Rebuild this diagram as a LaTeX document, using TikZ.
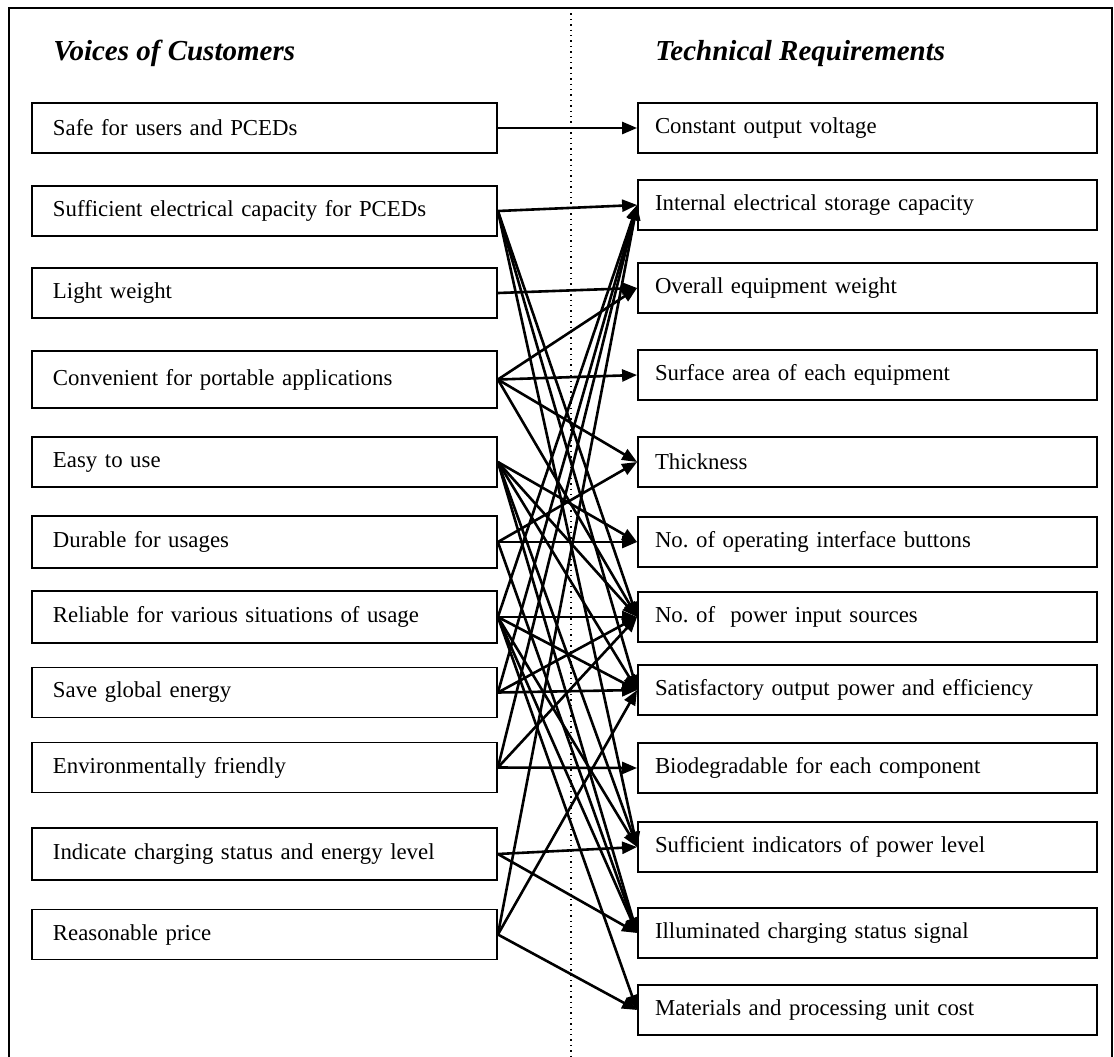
\documentclass[tikz,border=0pt]{standalone}
\usepackage{fontspec}
\setmainfont{Liberation Serif}
\usetikzlibrary{arrows.meta}
\begin{document}
\begin{tikzpicture}[x=0.5pt,y=-0.5pt,
  boxtext/.style={font=\fontsize{11.4}{13}\selectfont},
  vbox/.style={boxtext, draw, line width=0.9pt, text width=211.5pt, inner xsep=10.5pt, inner ysep=0pt, align=left, minimum height=25pt},
  tbox/.style={boxtext, draw, line width=0.9pt, text width=212.5pt, inner xsep=8.5pt, inner ysep=0pt, align=left, minimum height=25pt},
  heading/.style={anchor=base west, inner sep=0pt, font=\fontsize{14.5}{16}\selectfont\bfseries\itshape},
  link/.style={line width=1.3pt, -{Triangle[length=7.5pt,width=6pt]}}
]
\useasboundingbox (0,0) rectangle (1114,1056);
% frame and centre divider
\draw[line width=1pt] (9,1080) -- (9,8) -- (1112,8) -- (1112,1080);
\draw[line width=0.7pt, dotted] (571,8) -- (571,1080);

% headings
\node[heading] (hv) at (53,60) {Voices of Customers};
\node[heading] (ht) at (655,60) {Technical Requirements};

% voices of customers
\node[vbox] (v1)  at (264.5,128) {Safe for users and PCEDs};
\node[vbox] (v2)  at (264.5,211) {Sufficient electrical capacity for PCEDs};
\node[vbox] (v3)  at (264.5,293) {Light weight};
\node[vbox, minimum height=28.5pt] (v4) at (264.5,379.5) {Convenient for portable applications};
\node[vbox] (v5)  at (264.5,462) {Easy to use};
\node[vbox, minimum height=26pt] (v6) at (264.5,542) {Durable for usages};
\node[vbox, minimum height=26pt] (v7) at (264.5,617) {Reliable for various situations of usage};
\node[vbox] (v8)  at (264.5,692.5) {Save global energy};
\node[vbox] (v9)  at (264.5,767.5) {Environmentally friendly};
\node[vbox, minimum height=26pt] (v10) at (264.5,854) {Indicate charging status and energy level};
\node[vbox] (v11) at (264.5,934.5) {Reasonable price};

% technical requirements
\node[tbox] (t1)  at (867.5,128) {Constant output voltage};
\node[tbox] (t2)  at (867.5,205) {Internal electrical storage capacity};
\node[tbox] (t3)  at (867.5,288) {Overall equipment weight};
\node[tbox] (t4)  at (867.5,375) {Surface area of each equipment};
\node[tbox] (t5)  at (867.5,462) {Thickness};
\node[tbox] (t6)  at (867.5,542) {No.\ of operating interface buttons};
\node[tbox] (t7)  at (867.5,617) {No.\ of \ power input sources};
\node[tbox] (t8)  at (867.5,690) {Satisfactory output power and efficiency};
\node[tbox] (t9)  at (867.5,768) {Biodegradable for each component};
\node[tbox] (t10) at (867.5,847) {Sufficient indicators of power level};
\node[tbox] (t11) at (867.5,933) {Illuminated charging status signal};
\node[tbox] (t12) at (867.5,1010) {Materials and processing unit cost};

% relationships
\draw[link] (v1.east) -- (t1.west);
\foreach \t in {t2,t7,t8,t10} \draw[link] (v2.east) -- (\t.west);
\draw[link] (v3.east) -- (t3.west);
\foreach \t in {t3,t4,t5,t7} \draw[link] (v4.east) -- (\t.west);
\foreach \t in {t6,t7,t8,t10,t11} \draw[link] (v5.east) -- (\t.west);
\foreach \t in {t5,t6,t11} \draw[link] (v6.east) -- (\t.west);
\foreach \t in {t2,t7,t8,t10,t11,t12} \draw[link] (v7.east) -- (\t.west);
\foreach \t in {t2,t7,t8} \draw[link] (v8.east) -- (\t.west);
\foreach \t in {t2,t7,t9} \draw[link] (v9.east) -- (\t.west);
\foreach \t in {t10,t11} \draw[link] (v10.east) -- (\t.west);
\foreach \t in {t2,t8,t12} \draw[link] (v11.east) -- (\t.west);
\end{tikzpicture}
\end{document}
